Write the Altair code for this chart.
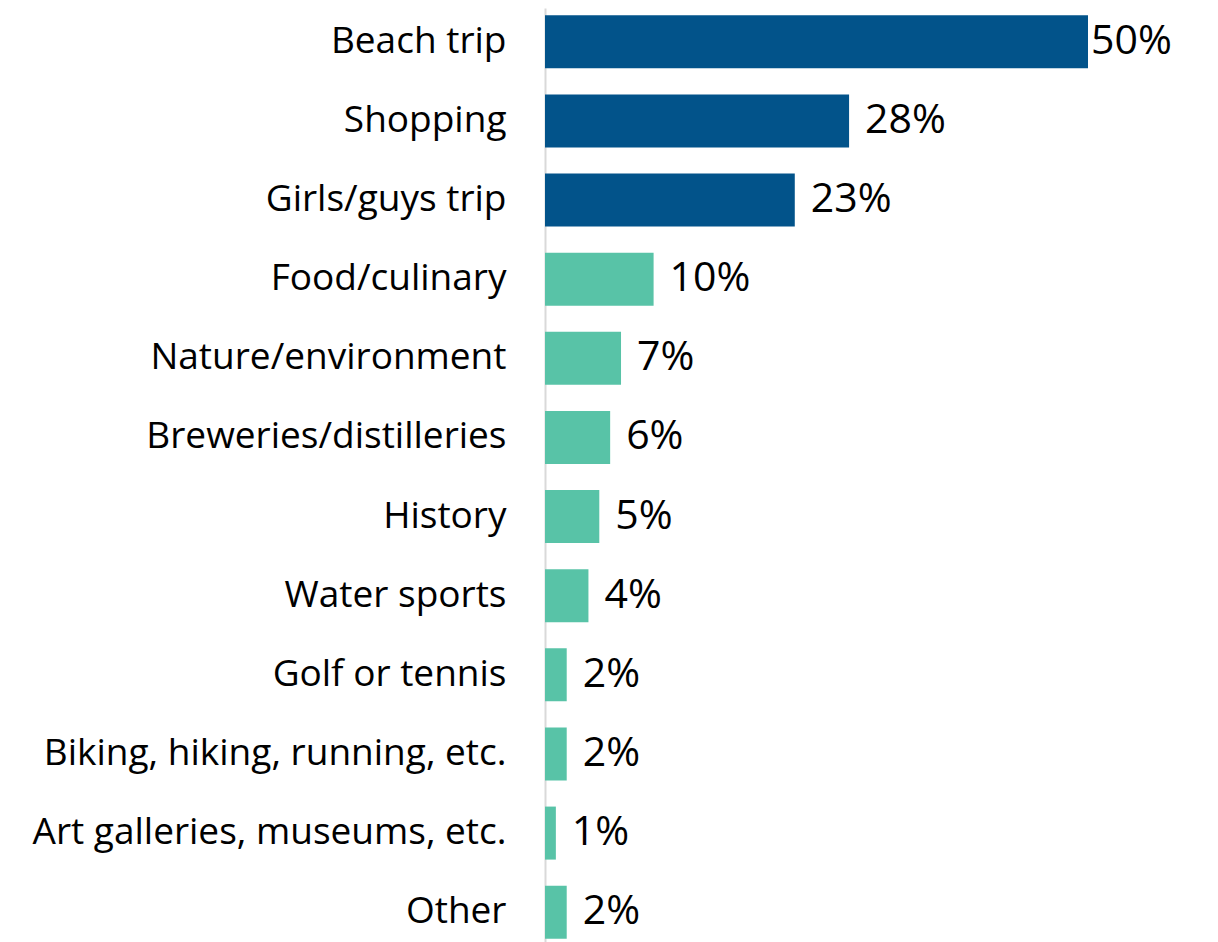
import altair as alt
import pandas as pd

categories = ["Beach trip", "Shopping", "Girls/guys trip", "Food/culinary",
              "Nature/environment", "Breweries/distilleries", "History",
              "Water sports\u00a0", "Golf or tennis", "Biking, hiking, running, etc.",
              "Art galleries, museums, etc.", "Other\u00a0"]
values = [50, 28, 23, 10, 7, 6, 5, 4, 2, 2, 1, 2]
groups = ["top", "top", "top", "rest", "rest", "rest", "rest", "rest", "rest", "rest", "rest", "rest"]
value_labels = ["50%", "28%", "23%", "10%", "7%", "6%", "5%", "4%", "2%", "2%", "1%", "2%"]

df = pd.DataFrame({"cat": categories, "value": values, "group": groups, "label": value_labels})

FONT = "Open Sans"

y_enc = alt.Y("cat:N", sort=categories,
              scale=alt.Scale(paddingInner=0.33, paddingOuter=0.092),
              axis=alt.Axis(title=None, ticks=False, domain=True, domainColor="#d9d9d9",
                            domainWidth=2, labelFont=FONT, labelFontSize=37,
                            labelColor="#000000", labelPadding=39, labelLimit=600))
x_enc = alt.X("value:Q", scale=alt.Scale(domain=[0, 50], nice=False),
              axis=None)

bars = alt.Chart(df).mark_bar().encode(
    y=y_enc, x=x_enc,
    color=alt.Color("group:N", scale=alt.Scale(domain=["top", "rest"],
                                                range=["#02538A", "#58C3A7"]), legend=None),
)

text_first = alt.Chart(df).transform_filter(alt.datum.value >= 50).mark_text(
    align="left", baseline="middle", dx=3, font=FONT, fontSize=41, color="#000000"
).encode(y=alt.Y("cat:N", sort=categories), x="value:Q", text="label:N")

text_rest = alt.Chart(df).transform_filter(alt.datum.value < 50).mark_text(
    align="left", baseline="middle", dx=16, font=FONT, fontSize=41, color="#000000"
).encode(y=alt.Y("cat:N", sort=categories), x="value:Q", text="label:N")

chart = alt.layer(bars, text_first, text_rest).properties(
    width=543, height=938,
    autosize=alt.AutoSizeParams(type="none"),
    padding={"left": 537, "top": 0, "right": 120, "bottom": 0},
).configure_view(stroke=None)

chart.save("out.html", embed_options={"renderer": "svg", "actions": False})
